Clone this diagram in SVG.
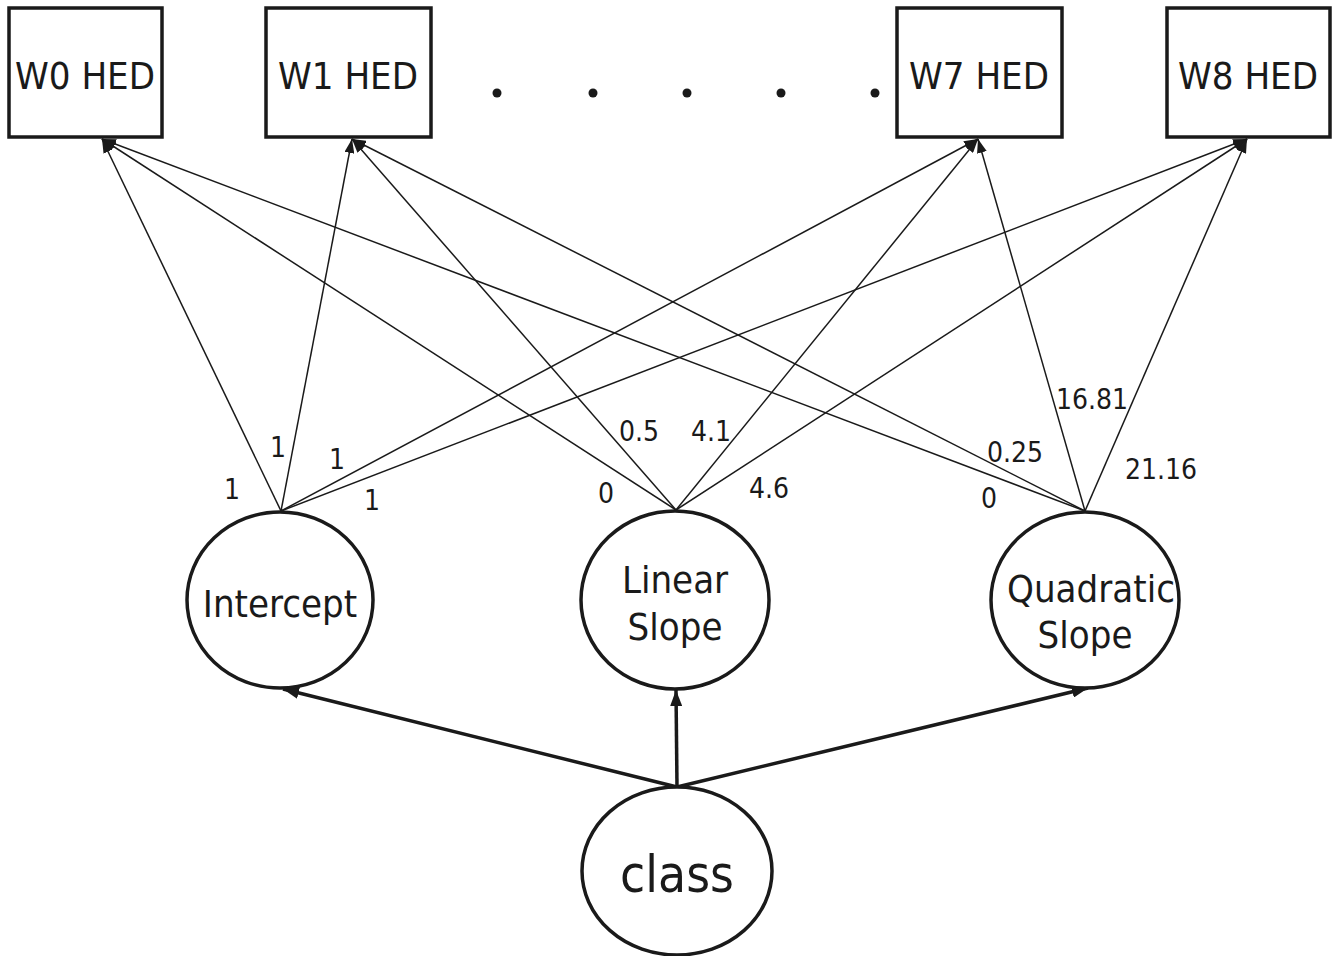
<svg xmlns="http://www.w3.org/2000/svg" width="1339" height="956" viewBox="0 0 1339 956">
  <style>
    .box { fill: #fff; stroke: #1a1a1a; stroke-width: 3.5; }
    .lat { fill: #fff; stroke: #1a1a1a; stroke-width: 3.5; }
    .lbl { font-family: "DejaVu Sans Condensed", "DejaVu Sans", sans-serif; fill: #1a1a1a; text-anchor: middle; }
    .node { font-size: 38px; }
    .big { font-size: 51px; }
    .w { font-size: 28px; }
    .load { stroke: #1a1a1a; stroke-width: 1.5; fill: none; marker-end: url(#thin); }
    .reg { stroke: #1a1a1a; stroke-width: 3.5; fill: none; marker-end: url(#bold); }
    .dot { fill: #1a1a1a; }
  </style>
  <defs>
    <marker id="thin" markerUnits="userSpaceOnUse" markerWidth="14" markerHeight="10" refX="14" refY="5" orient="auto">
      <path d="M0,0 L14,5 L0,10 z" fill="#1a1a1a"/>
    </marker>
    <marker id="bold" markerUnits="userSpaceOnUse" markerWidth="16" markerHeight="12" refX="16" refY="6" orient="auto">
      <path d="M0,0 L16,6 L0,12 z" fill="#1a1a1a"/>
    </marker>
  </defs>
  <rect width="1339" height="956" fill="#fff"/>

  <!-- loadings from growth factors to each measured wave -->
  <g id="connectors">
    <line class="load" x1="281" y1="511" x2="102" y2="139"/>
    <line class="load" x1="281" y1="511" x2="352" y2="139"/>
    <line class="load" x1="281" y1="511" x2="978" y2="139"/>
    <line class="load" x1="281" y1="511" x2="1247" y2="139"/>
    <line class="load" x1="676" y1="510" x2="102" y2="139"/>
    <line class="load" x1="676" y1="510" x2="352" y2="139"/>
    <line class="load" x1="676" y1="510" x2="978" y2="139"/>
    <line class="load" x1="676" y1="510" x2="1247" y2="139"/>
    <line class="load" x1="1085" y1="511" x2="102" y2="139"/>
    <line class="load" x1="1085" y1="511" x2="352" y2="139"/>
    <line class="load" x1="1085" y1="511" x2="978" y2="139"/>
    <line class="load" x1="1085" y1="511" x2="1247" y2="139"/>
    <!-- class predicting growth factors -->
    <line class="reg" x1="677" y1="787" x2="283" y2="689"/>
    <line class="reg" x1="677" y1="787" x2="676" y2="690"/>
    <line class="reg" x1="677" y1="787" x2="1088" y2="688"/>
  </g>

  <!-- loading values -->
  <g id="loading-labels" class="lbl w">
    <text x="232" y="499">1</text>
    <text x="278" y="457">1</text>
    <text x="337" y="469">1</text>
    <text x="372" y="510">1</text>
    <text x="639" y="441">0.5</text>
    <text x="711" y="441">4.1</text>
    <text x="606" y="503">0</text>
    <text x="769" y="498">4.6</text>
    <text x="1092" y="409">16.81</text>
    <text x="1015" y="462">0.25</text>
    <text x="989" y="508">0</text>
    <text x="1161" y="479">21.16</text>
  </g>

  <g id="w0">
    <rect class="box" x="9" y="8" width="153" height="129"/>
    <text class="lbl node" x="85" y="89">W0 HED</text>
  </g>
  <g id="w1">
    <rect class="box" x="266" y="8" width="165" height="129"/>
    <text class="lbl node" x="348" y="89">W1 HED</text>
  </g>
  <g id="ellipsis">
    <circle class="dot" cx="497" cy="93" r="4.5"/>
    <circle class="dot" cx="593" cy="93" r="4.5"/>
    <circle class="dot" cx="687" cy="93" r="4.5"/>
    <circle class="dot" cx="781" cy="93" r="4.5"/>
    <circle class="dot" cx="875" cy="93" r="4.5"/>
  </g>
  <g id="w7">
    <rect class="box" x="897" y="8" width="165" height="129"/>
    <text class="lbl node" x="979" y="89">W7 HED</text>
  </g>
  <g id="w8">
    <rect class="box" x="1167" y="8" width="163" height="129"/>
    <text class="lbl node" x="1248" y="89">W8 HED</text>
  </g>

  <g id="intercept">
    <ellipse class="lat" cx="280" cy="600" rx="93" ry="88"/>
    <text class="lbl node" x="280" y="617">Intercept</text>
  </g>
  <g id="linear">
    <ellipse class="lat" cx="675" cy="600" rx="94" ry="89"/>
    <text class="lbl node" x="675" y="593">Linear</text>
    <text class="lbl node" x="675" y="640">Slope</text>
  </g>
  <g id="quadratic">
    <ellipse class="lat" cx="1085" cy="600" rx="94" ry="88"/>
    <text class="lbl node" x="1091" y="602">Quadratic</text>
    <text class="lbl node" x="1085" y="648">Slope</text>
  </g>
  <g id="class">
    <ellipse class="lat" cx="677" cy="871" rx="95" ry="84"/>
    <text class="lbl big" x="677" y="892">class</text>
  </g>
</svg>
